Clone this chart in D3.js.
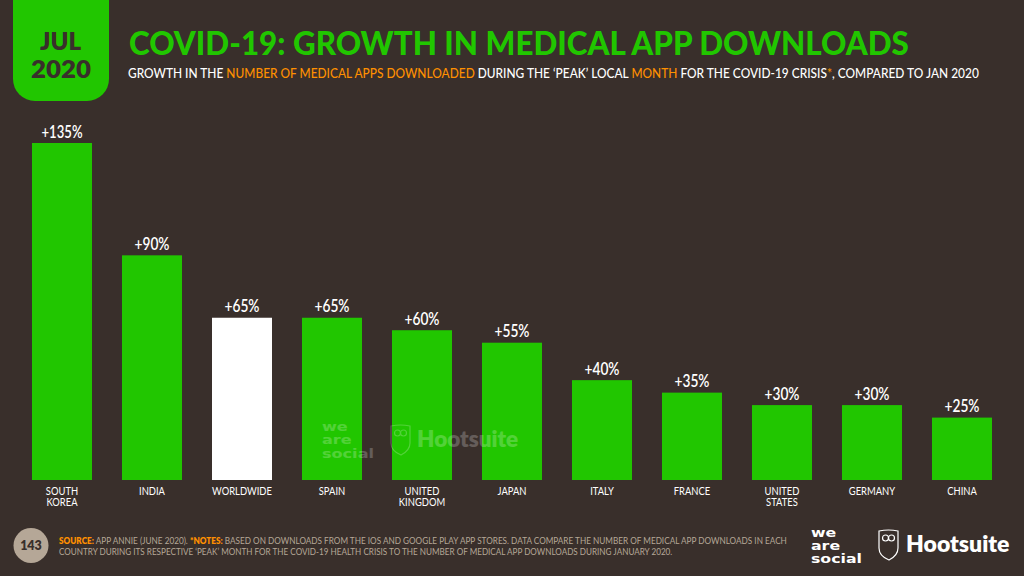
<!DOCTYPE html>
<html><head><meta charset="utf-8">
<script src="https://cdnjs.cloudflare.com/ajax/libs/d3/7.8.5/d3.min.js"></script>
<style>html,body{margin:0;padding:0;background:#392f2b;overflow:hidden}svg{display:block}text{font-family:Lato,"Open Sans",sans-serif}</style>
</head><body><svg id="c" width="1024" height="576"></svg>
<script>
const categories=[["SOUTH","KOREA"],["INDIA"],["WORLDWIDE"],["SPAIN"],["UNITED","KINGDOM"],["JAPAN"],["ITALY"],["FRANCE"],["UNITED","STATES"],["GERMANY"],["CHINA"]];
const values=[135,90,65,65,60,55,40,35,30,30,25];
const highlighted=["WORLDWIDE"];
const titleText="COVID-19: GROWTH IN MEDICAL APP DOWNLOADS";
const GREEN="#21c600",ORANGE="#ff9000",BG="#392f2b",FOOT="#b5a797";
const subtitleRuns=[["GROWTH IN THE ","#fff"],["NUMBER OF MEDICAL APPS DOWNLOADED",ORANGE],[" DURING THE ‘PEAK’ LOCAL ","#fff"],["MONTH",ORANGE],[" FOR THE COVID-19 CRISIS","#fff"],["*",ORANGE],[", COMPARED TO JAN 2020","#fff"]];
const foot1=[["SOURCE:",ORANGE,800],[" APP ANNIE (JUNE 2020). ",FOOT,400],["*NOTES:",ORANGE,800],[" BASED ON DOWNLOADS FROM THE IOS AND GOOGLE PLAY APP STORES. DATA COMPARE THE NUMBER OF MEDICAL APP DOWNLOADS IN EACH",FOOT,400]];
const foot2=[["COUNTRY DURING ITS RESPECTIVE ‘PEAK’ MONTH FOR THE COVID-19 HEALTH CRISIS TO THE NUMBER OF MEDICAL APP DOWNLOADS DURING JANUARY 2020.",FOOT,400]];

const svg=d3.select("#c");
svg.append("rect").attr("width",1024).attr("height",576).attr("fill",BG);

function fit(g,x,w){
  const n=g.node(),len=n.getComputedTextLength();
  g.attr("transform",`translate(${x},${+g.attr("data-y")}) scale(${w/len},1)`);
}
function runs(x,y,w,size,arr,weight){
  const t=svg.append("text").attr("data-y",y).attr("font-size",size).attr("font-weight",weight||400).style("white-space","pre");
  arr.forEach(r=>t.append("tspan").attr("fill",r[1]).attr("font-weight",r[2]||null).text(r[0]));
  fit(t,x,w);return t;
}

// date tab
svg.append("path").attr("fill",GREEN).attr("d","M13,0H109V79a22,22 0 0 1 -22,22H35a22,22 0 0 1 -22,-22Z");
const tab=(s,y,fs,x,w)=>{const t=svg.append("text").attr("data-y",y).attr("font-size",fs).attr("font-weight",800).attr("fill",BG).text(s);fit(t,x,w);};
tab("JUL",50,24,40,41);
tab("2020",78,24,31,60);

// title
const tt=svg.append("text").attr("data-y",55).attr("font-size",33).attr("font-weight",900).attr("fill",GREEN).text(titleText);fit(tt,129,780);
runs(128,78,851,13,subtitleRuns,500);

// chart
const x=d3.scaleBand().domain(categories.map(d=>d.join(" "))).range([17,1007]).paddingInner(1/3).paddingOuter(1/6);
const y=d3.scaleLinear().domain([0,135]).range([480,143]);
const data=categories.map((c,i)=>({key:c.join(" "),lines:c,v:values[i]}));
svg.append("g").selectAll("rect").data(data).join("rect")
 .attr("x",d=>x(d.key)).attr("width",x.bandwidth()).attr("y",d=>y(d.v)).attr("height",d=>y(0)-y(d.v))
 .attr("fill",d=>highlighted.includes(d.key)?"#fff":GREEN);
svg.append("g").selectAll("text").data(data).join("text")
 .attr("x",d=>x(d.key)+x.bandwidth()/2).attr("y",d=>y(d.v)-5.5).attr("text-anchor","middle")
 .attr("font-size",18).attr("font-weight",600).attr("fill","#fff").attr("lengthAdjust","spacingAndGlyphs")
 .attr("textLength",d=>d.v>=100?41:35)
 .text(d=>"+"+d.v+"%");
const lab=svg.append("g").selectAll("text").data(data).join("text")
 .attr("text-anchor","middle").attr("font-size",10.5).attr("fill","#fff");
lab.each(function(d){const s=d3.select(this);d.lines.forEach((l,i)=>{
  const t=s.append("tspan").attr("x",x(d.key)+x.bandwidth()/2).attr("y",495+i*11).text(l);
  t.attr("textLength",t.node().getComputedTextLength()*0.895).attr("lengthAdjust","spacingAndGlyphs");
});});

// logos
function weAreSocial(g,x0,y0,fs,lh,w){
 const t=g.append("text").attr("font-family","DejaVu Sans").style("font-family","DejaVu Sans").attr("font-size",fs).attr("font-weight",700).attr("fill","#fff");
 const ts=["we","are","social"].map((s,i)=>t.append("tspan").attr("x",0).attr("y",i*lh).text(s));
 const sx=w/ts[2].node().getComputedTextLength();
 t.attr("transform",`translate(${x0},${y0}) scale(${sx},1)`);
}
function owl(g,x0,y0,s){
 const o=g.append("g").attr("transform",`translate(${x0},${y0}) scale(${s})`).attr("fill","none").attr("stroke","#fff").attr("stroke-width",1.2);
 o.append("path").attr("d","M1,1 C8,-0.5 13,-0.5 20,1 V18 C20,25 15,28 11,30 C6,28 1,25 1,18 Z");
 o.append("circle").attr("cx",7.5).attr("cy",8).attr("r",3);
 o.append("circle").attr("cx",13.5).attr("cy",8).attr("r",3);
}
const wm=svg.append("g").attr("opacity",.22);
weAreSocial(wm,322,431,11.5,13.4,52);
owl(wm,390,425,1);
wm.append("text").attr("x",417).attr("y",447).attr("font-size",22.5).attr("font-weight",800).attr("fill","#fff").text("Hootsuite");

// footer
svg.append("circle").attr("cx",31).attr("cy",545.5).attr("r",17.5).attr("fill","#b5a797");
svg.append("text").attr("x",31).attr("y",550).attr("text-anchor","middle").attr("font-size",12.5).attr("font-weight",800).attr("fill",BG).text("143");
runs(59,544,729,8.6,foot1);
runs(59,554.5,614,8.6,foot2);
const lg=svg.append("g");
weAreSocial(lg,811,536.5,11.5,13.4,51);
owl(lg,878,530,1);
lg.append("text").attr("x",906).attr("y",552).attr("font-size",23).attr("font-weight",800).attr("fill","#fff").text("Hootsuite");
</script></body></html>
